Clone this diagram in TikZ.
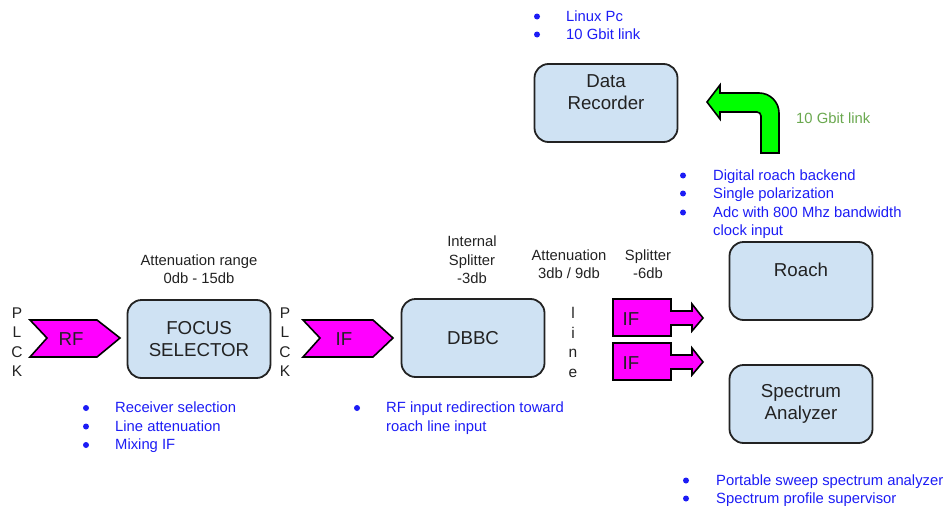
\documentclass[tikz,border=0pt]{standalone}
\usepackage{fontspec}
\setmainfont{Liberation Sans}
\definecolor{boxblue}{RGB}{207,226,243}
\definecolor{noteblue}{RGB}{28,28,245}
\definecolor{linkgreen}{RGB}{106,168,79}
\definecolor{textgray}{RGB}{34,34,34}
\definecolor{tagpink}{RGB}{255,0,255}
\definecolor{arrowgreen}{RGB}{0,255,0}
\tikzset{
  block/.style={draw=textgray, line width=1.8pt, rounded corners=14pt, fill=boxblue,
    minimum width=143pt, minimum height=78pt, align=center, text=textgray,
    font=\fontsize{18.7}{22}\selectfont},
  note/.style={anchor=base west, inner sep=0pt, text=noteblue, font=\fontsize{14.8}{17}\selectfont},
  headtext/.style={anchor=base, inner sep=0pt, text=textgray, font=\fontsize{14.8}{17}\selectfont},
  letter/.style={anchor=base, inner sep=0pt, text=textgray, font=\fontsize{15.5}{18}\selectfont},
  tag/.style={draw=black, line width=1.6pt, fill=tagpink},
  tagtext/.style={inner sep=0pt, text=textgray, font=\fontsize{18.7}{22}\selectfont},
  dot/.style={fill=noteblue},
}
\begin{document}
\begin{tikzpicture}[x=1pt,y=-1pt]
  \useasboundingbox (0,0) rectangle (948,506);

  % the blocks
  \node[block] (focus) at (199,339) {FOCUS\\SELECTOR};
  \node[block] (dbbc) at (473,338) {DBBC};
  \node[block] (roach) at (801,281) {Roach\\\mbox{}};
  \node[block] (analyzer) at (801,404) {Spectrum\\Analyzer};
  \node[block] (recorder) at (606,103) {Data\\Recorder\\\mbox{}};

  % RF and IF tags
  \draw[tag] (30,320) -- (97,320) -- (120,338) -- (97,357) -- (30,357) -- (47,338) -- cycle;
  \node[tagtext] (rf) at (71,339) {RF};
  \draw[tag] (303,320) -- (373,320) -- (393,338) -- (373,357) -- (303,357) -- (320,338) -- cycle;
  \node[tagtext] (ifin) at (344,339) {IF};
  \foreach \dy/\nm in {0/iftop,44/ifbot} {
    \draw[tag,shift={(0,\dy)}] (613,299) -- (671,299) -- (671,311) -- (692,311) -- (692,304)
      -- (703,318) -- (692,331) -- (692,325) -- (671,325) -- (671,336) -- (613,336) -- cycle;
    \node[tagtext] (\nm) at (631,{319+\dy}) {IF};
  }

  % 10 Gbit link arrow
  \draw[draw=black, line width=1.6pt, fill=arrowgreen] (707,102) -- (720,85) -- (720,93) -- (759,93)
    arc[start angle=90,end angle=0,radius=20pt] -- (779,153) -- (761,153) -- (761,116)
    arc[start angle=0,end angle=90,radius=4pt] -- (720,112) -- (720,119) -- cycle;
  \node[note, text=linkgreen] (linklabel) at (796,123) {10 Gbit link};

  % vertical letters
  \foreach \ch [count=\i] in {P,L,C,K} {
    \node[letter] (plckl\i) at (17,{298.5+19.6*\i}) {\ch};
    \node[letter] (plckr\i) at (285,{298.5+19.6*\i}) {\ch};
  }
  \foreach \ch [count=\i] in {l,i,n,e} {
    \node[letter] (line\i) at (573,{299+19.5*\i}) {\ch};
  }

  % black headings
  \node[headtext] (attA) at (199,265) {Attenuation range};
  \node[headtext] (attB) at (199,283) {0db - 15db};
  \node[headtext] (splA) at (472,246) {Internal};
  \node[headtext] (splB) at (472,265) {Splitter};
  \node[headtext] (splC) at (472,283) {-3db};
  \node[headtext] (lineA) at (569,260) {Attenuation};
  \node[headtext] (lineB) at (569,278) {3db / 9db};
  \node[headtext] (sixA) at (648,260) {Splitter};
  \node[headtext] (sixB) at (648,278) {-6db};

  % blue notes
  \foreach \y/\t [count=\i] in {21/Linux Pc, 39/10 Gbit link} {
    \fill[dot] (537,\y-4.5) circle (3pt);
    \node[note] (pc\i) at (566,\y) {\t};
  }
  \foreach \y/\t [count=\i] in {180/Digital roach backend, 198/Single polarization, 217/Adc with 800 Mhz bandwidth} {
    \fill[dot] (683,\y-4.5) circle (3pt);
    \node[note] (rn\i) at (713,\y) {\t};
  }
  \node[note] (rn4) at (713,235) {clock input};
  \foreach \y/\t [count=\i] in {412.5/Receiver selection, 431/Line attenuation, 449.5/Mixing IF} {
    \fill[dot] (86,\y-4.5) circle (3pt);
    \node[note] (fn\i) at (115,\y) {\t};
  }
  \fill[dot] (357,408) circle (3pt);
  \node[note] (dn1) at (386,412.5) {RF input redirection toward};
  \node[note] (dn2) at (386,431) {roach line input};
  \foreach \y/\t [count=\i] in {485/Portable sweep spectrum analyzer, 503/Spectrum profile supervisor} {
    \fill[dot] (686,\y-4.5) circle (3pt);
    \node[note] (sn\i) at (716,\y) {\t};
  }
\end{tikzpicture}
\end{document}
